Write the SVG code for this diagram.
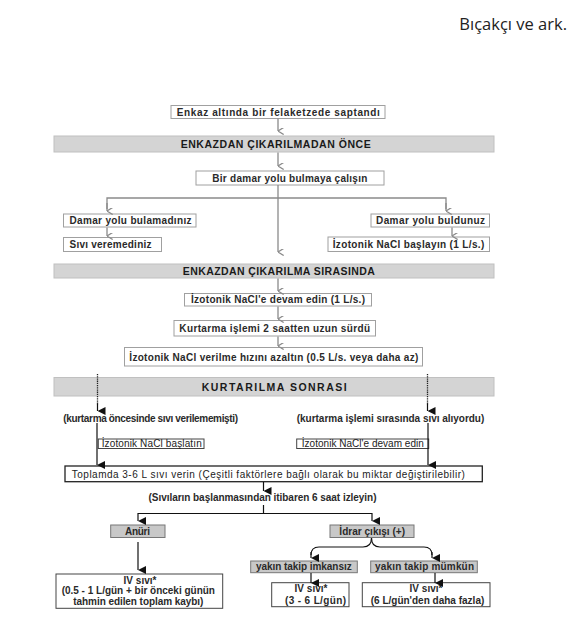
<svg xmlns="http://www.w3.org/2000/svg" width="578" height="640" viewBox="0 0 578 640">
<defs>
<marker id="ag" viewBox="0 0 8 8" refX="4" refY="7.5" markerWidth="7" markerHeight="7" markerUnits="userSpaceOnUse" orient="auto-start-reverse">
<path d="M0,1 L4,7.5 L8,1" fill="none" stroke="#8a8a8a" stroke-width="1.5"/>
</marker>
<marker id="ab" viewBox="0 0 8 8" refX="4" refY="8" markerWidth="8" markerHeight="8" markerUnits="userSpaceOnUse" orient="auto">
<path d="M0,0 L8,0 L4,8 Z" fill="#111"/>
</marker>
<style>
.bx{fill:#fff;stroke:#a0a0a0;stroke-width:1}
.bk{fill:#fff;stroke:#444;stroke-width:1}
.gb{fill:#c8c8c8;stroke:#777;stroke-width:1}
.band{fill:#d4d4d4;stroke:#c0c0c0;stroke-width:1}
.t{font-family:"Liberation Sans",Arial,sans-serif;font-weight:bold;font-size:10px;fill:#2a2a2a;text-anchor:middle}
.h{font-family:"Liberation Sans",Arial,sans-serif;font-weight:bold;font-size:10.5px;fill:#1a1a1a;text-anchor:middle}
.n{font-family:"Liberation Sans",Arial,sans-serif;font-size:10px;fill:#222;text-anchor:middle}
.cg{fill:none;stroke:#8a8a8a;stroke-width:1.3}
.cb{fill:none;stroke:#111;stroke-width:1.2}
.cd{fill:none;stroke:#222;stroke-width:1.3;stroke-dasharray:1.3 0.9}
</style>
</defs>
<rect width="578" height="640" fill="#fff"/>
<text x="567" y="30" text-anchor="end" font-family="'Open Sans',sans-serif" font-size="16.5" fill="#222">Bıçakçı ve ark.</text>

<g id="n1"><rect class="bx" x="171" y="105.5" width="214" height="13"/><text class="t" x="278.3" y="115.5" textLength="203">Enkaz altında bir felaketzede saptandı</text></g>
<g id="band1"><rect class="band" x="54" y="136" width="440" height="16"/><text class="h" x="275.7" y="148" textLength="190">ENKAZDAN ÇIKARILMADAN ÖNCE</text></g>
<g id="n2"><rect class="bx" x="196" y="171" width="188" height="14"/><text class="t" x="289.8" y="181.5" textLength="155">Bir damar yolu bulmaya çalışın</text></g>
<g id="n3"><rect class="bx" x="63.5" y="214" width="132.5" height="13"/><text class="t" x="130.5" y="224" textLength="122">Damar yolu bulamadınız</text></g>
<g id="n4"><rect class="bx" x="63.5" y="237.5" width="98" height="14"/><text class="t" x="110.5" y="248" textLength="82">Sıvı veremediniz</text></g>
<g id="n5"><rect class="bx" x="371" y="214" width="118.5" height="13"/><text class="t" x="430.5" y="224" textLength="109">Damar yolu buldunuz</text></g>
<g id="n6"><rect class="bx" x="328" y="237" width="161.5" height="14.5"/><text class="t" x="408.5" y="248" textLength="151.5">İzotonik NaCl başlayın (1 L/s.)</text></g>
<g id="band2"><rect class="band" x="54" y="264" width="440" height="14"/><text class="h" x="278.8" y="275" textLength="192">ENKAZDAN ÇIKARILMA SIRASINDA</text></g>
<g id="n7"><rect class="bx" x="184.5" y="293.5" width="187" height="12.5"/><text class="t" x="278" y="303.3" textLength="174">İzotonik NaCl'e devam edin (1 L/s.)</text></g>
<g id="n8"><rect class="bx" x="174" y="320.5" width="201.5" height="15.5"/><text class="t" x="274.7" y="332" textLength="190.7">Kurtarma işlemi 2 saatten uzun sürdü</text></g>
<g id="n9"><rect class="bx" x="124.5" y="347.5" width="298" height="18.5"/><text class="t" x="273.8" y="360.5" textLength="289">İzotonik NaCl verilme hızını azaltın (0.5 L/s. veya daha az)</text></g>
<g id="band3"><rect class="band" x="54" y="377.5" width="440" height="18.5"/><text class="h" x="274.2" y="390.5" font-size="12" textLength="145">KURTARILMA SONRASI</text></g>
<g id="l1"><text class="t" x="150.7" y="421.5" font-size="9.5" textLength="174.7">(kurtarma öncesinde sıvı verilememişti)</text></g>
<g id="l2"><text class="t" x="390.5" y="421.5" font-size="9.5" textLength="187.6">(kurtarma işlemi sırasında sıvı alıyordu)</text></g>
<g id="n10"><rect class="bk" x="98.3" y="439" width="105.7" height="9.5"/><text class="n" x="151.7" y="446.8" font-size="9" textLength="100">İzotonik NaCl başlatın</text></g>
<g id="n11"><rect class="bk" x="296.7" y="439" width="132" height="9.5"/><text class="n" x="362.8" y="446.8" font-size="9" textLength="122">İzotonik NaCl'e devam edin</text></g>
<g id="n12"><rect fill="#fff" stroke="#222" stroke-width="1.3" x="65" y="466" width="417.3" height="15.7"/><text class="n" x="268.3" y="477.8" font-size="10.5" textLength="393">Toplamda 3-6 L sıvı verin (Çeşitli faktörlere bağlı olarak bu miktar değiştirilebilir)</text></g>
<g id="l3"><text class="t" x="262.5" y="501" font-size="9.5" textLength="228">(Sıvıların başlanmasından itibaren 6 saat izleyin)</text></g>
<g id="n13"><rect class="gb" x="110.7" y="525" width="54.3" height="12.5"/><text class="t" x="137.5" y="535" textLength="25">Anüri</text></g>
<g id="n14"><rect class="gb" x="330" y="525" width="84" height="12.5"/><text class="t" x="372.2" y="535" textLength="65.7">İdrar çıkışı (+)</text></g>
<g id="n15"><rect class="gb" x="250.7" y="561" width="106.6" height="11.7"/><text class="t" x="303.8" y="570.3" textLength="95.7">yakın takip imkansız</text></g>
<g id="n16"><rect class="gb" x="370.7" y="561" width="106.6" height="11.7"/><text class="t" x="424.5" y="570.3" textLength="99">yakın takip mümkün</text></g>
<g id="n17"><rect class="bk" x="56" y="574" width="166.7" height="34.3"/><text class="t" x="140" y="584">IV sıvı*</text><text class="t" x="138.3" y="594" textLength="153.3">(0.5 - 1 L/gün + bir önceki günün</text><text class="t" x="138.3" y="604.5" textLength="130">tahmin edilen toplam kaybı)</text></g>
<g id="n18"><rect class="bk" x="271.7" y="582.7" width="77.3" height="24"/><text class="t" x="311" y="592">IV sıvı*</text><text class="t" x="315.5" y="603.5" textLength="61">(3 - 6  L/gün)</text></g>
<g id="n19"><rect class="bk" x="362.3" y="582.7" width="127.7" height="24"/><text class="t" x="426" y="592">IV sıvı*</text><text class="t" x="427.5" y="603.5" textLength="113.6">(6 L/gün'den daha fazla)</text></g>

<g id="connectors">
<line class="cg" x1="278" y1="118.5" x2="278" y2="131" marker-end="url(#ag)"/>
<line class="cg" x1="278" y1="152.5" x2="278" y2="166" marker-end="url(#ag)"/>
<line class="cg" x1="278" y1="185" x2="278" y2="252" marker-end="url(#ag)"/>
<polyline class="cg" points="107,209 107,198 446,198 446,209"/>
<line class="cg" x1="107" y1="203" x2="107" y2="211" marker-end="url(#ag)"/>
<line class="cg" x1="446" y1="203" x2="446" y2="211" marker-end="url(#ag)"/>
<line class="cg" x1="107" y1="227.5" x2="107" y2="236" marker-end="url(#ag)"/>
<line class="cg" x1="452" y1="227.5" x2="452" y2="236" marker-end="url(#ag)"/>
<line class="cg" x1="278" y1="278.5" x2="278" y2="291" marker-end="url(#ag)"/>
<line class="cg" x1="278" y1="306.5" x2="278" y2="319" marker-end="url(#ag)"/>
<line class="cg" x1="278" y1="336.5" x2="278" y2="346" marker-end="url(#ag)"/>
<line class="cd" x1="97.5" y1="374" x2="97.5" y2="405"/>
<line class="cb" x1="97.5" y1="404" x2="97.5" y2="411" marker-end="url(#ab)"/>
<line class="cd" x1="427.5" y1="374" x2="427.5" y2="405"/>
<line class="cb" x1="427.5" y1="404" x2="427.5" y2="411" marker-end="url(#ab)"/>
<line class="cb" x1="97" y1="423" x2="97" y2="465" marker-end="url(#ab)"/>
<line class="cb" x1="428" y1="423" x2="428" y2="465" marker-end="url(#ab)"/>
<line class="cb" x1="263.5" y1="482" x2="263.5" y2="491" marker-end="url(#ab)"/>
<polyline class="cb" points="263.5,505 263.5,513.5"/>
<polyline class="cb" points="138,513.5 372,513.5"/>
<line class="cb" x1="138" y1="513" x2="138" y2="521" marker-end="url(#ab)"/>
<line class="cb" x1="372" y1="513" x2="372" y2="521" marker-end="url(#ab)"/>
<line class="cb" x1="138" y1="542" x2="138" y2="570" marker-end="url(#ab)"/>
<path class="cb" d="M371.5,538 Q371.5,547 363,547 L319,547 Q311,547 311,555"/>
<path class="cb" d="M371.5,538 Q371.5,547 380,547 L424,547 Q432,547 432,555"/>
<line class="cb" x1="311" y1="552" x2="311" y2="558" marker-end="url(#ab)"/>
<line class="cb" x1="432" y1="552" x2="432" y2="558" marker-end="url(#ab)"/>
<line class="cb" x1="311" y1="573" x2="311" y2="583" marker-end="url(#ab)"/>
<line class="cb" x1="435" y1="573" x2="435" y2="583" marker-end="url(#ab)"/>
</g>
</svg>
